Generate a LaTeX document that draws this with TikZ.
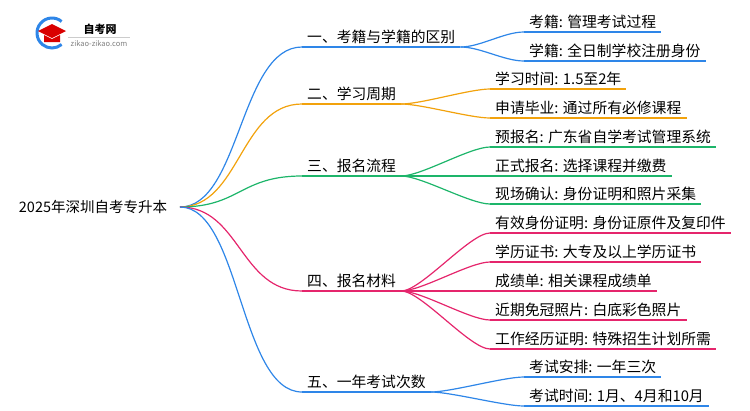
\documentclass[tikz,border=0pt]{standalone}
\usepackage{fontspec}
\setmainfont{Noto Sans CJK SC}
\begin{document}
\begin{tikzpicture}[x=1pt,y=-1pt,
  lab/.style={anchor=south west,inner xsep=5pt,inner ysep=3pt,font=\fontsize{14.8}{16}\selectfont},
  con/.style={line width=1.2pt},
  ul/.style={line width=1.2pt}]
\definecolor{colb}{HTML}{2E86E8}
\definecolor{colo}{HTML}{F2A20C}
\definecolor{colg}{HTML}{1DB56A}
\definecolor{colm}{HTML}{E5256C}
\useasboundingbox (0,0) rectangle (750,410);
% logo
\draw[colb,line width=3pt] (52,33) ++(-50:15) arc (-50:-310:15);
\fill[red!85!black] (38,31) -- (52,24) -- (66,31) -- (52,38) -- cycle;
\fill[red!85!black] (44,35) -- (44,42) -- (60,42) -- (60,35) -- (52,39) -- cycle;
\node (lg) at (100,29) {\fontsize{11}{12}\selectfont\bfseries 自考网};
\draw[gray!40] (68,37) -- (130,37);
\node (lgs) at (99,44) {\fontsize{7.5}{8}\selectfont\color{gray} zikao-zikao.com};
% root
\node[font=\fontsize{14.5}{16}\selectfont] (root) at (93,207) {2025年深圳自考专升本};
\coordinate (r) at (180,207);
% level 1
\node[lab] (a) at (302,47) {一、考籍与学籍的区别};
\node[lab] (b) at (302,104) {二、学习周期};
\node[lab] (c) at (302,176) {三、报名流程};
\node[lab] (d) at (302,291) {四、报名材料};
\node[lab] (e) at (302,392) {五、一年考试次数};
\foreach \n/\c in {a/colb,b/colo,c/colg,d/colm,e/colb}{
  \draw[ul,\c] (\n.south west) -- (\n.south east);
  \draw[con,\c] (r) .. controls (240,207) and (240,0|-\n.south west) .. (\n.south west);
}
% leaves
\node[lab] (a1) at (524,32) {考籍: 管理考试过程};
\node[lab] (a2) at (524,61) {学籍: 全日制学校注册身份};
\node[lab] (b1) at (490,89) {学习时间: 1.5至2年};
\node[lab] (b2) at (490,118) {申请毕业: 通过所有必修课程};
\node[lab] (c1) at (490,147) {预报名: 广东省自学考试管理系统};
\node[lab] (c2) at (490,176) {正式报名: 选择课程并缴费};
\node[lab] (c3) at (490,204) {现场确认: 身份证明和照片采集};
\node[lab] (d1) at (490,233) {有效身份证明: 身份证原件及复印件};
\node[lab] (d2) at (490,262) {学历证书: 大专及以上学历证书};
\node[lab] (d3) at (490,291) {成绩单: 相关课程成绩单};
\node[lab] (d4) at (490,320) {近期免冠照片: 白底彩色照片};
\node[lab] (d5) at (490,349) {工作经历证明: 特殊招生计划所需};
\node[lab] (e1) at (524,377) {考试安排: 一年三次};
\node[lab] (e2) at (524,406) {考试时间: 1月、4月和10月};
\foreach \p/\n/\c in {a/a1/colb,a/a2/colb,b/b1/colo,b/b2/colo,c/c1/colg,c/c2/colg,c/c3/colg,d/d1/colm,d/d2/colm,d/d3/colm,d/d4/colm,d/d5/colm,e/e1/colb,e/e2/colb}{
  \draw[ul,\c] (\n.south west) -- (\n.south east);
  \draw[con,\c] (\p.south east) .. controls ([xshift=20]\p.south east) and ([xshift=-20]\n.south west) .. (\n.south west);
}
\end{tikzpicture}
\end{document}
